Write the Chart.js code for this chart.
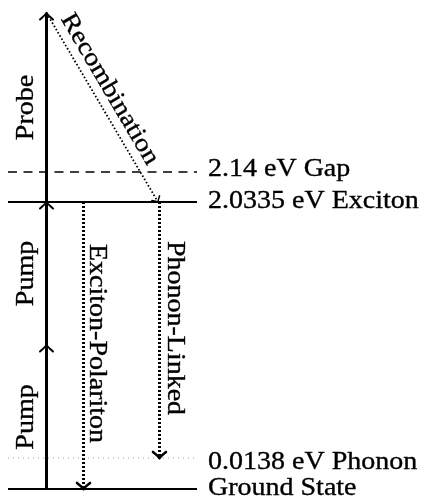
<!DOCTYPE html>
<html><head><meta charset="utf-8">
<script src="https://cdn.jsdelivr.net/npm/chart.js@4"></script>
<style>html,body{margin:0;padding:0;background:#fff}canvas{display:block}</style>
</head><body>
<canvas id="c" width="422" height="504"></canvas>
<script>
// ---- data (schematic level heights above the ground state) ----
const levelNames   = ['Ground State', '0.0138 eV Phonon', '2.0335 eV Exciton', '2.14 eV Gap'];
const levelHeights = [0, 31, 287, 317];
const levelStyles  = ['solid', 'dotted', 'solid', 'dashed'];
const levelSpan    = [8, 197];              // x extent of level lines

const transitionNames = ['Pump', 'Pump', 'Probe', 'Exciton-Polariton', 'Phonon-Linked', 'Recombination'];
const transitionFrom  = [0, 144, 287, 287, 287, 476];
const transitionTo    = [144, 287, 476, 0, 31, 287];
const transitionX0    = [46.5, 46.5, 46.5, 83.5, 159.5, 46.5];
const transitionX1    = [46.5, 46.5, 46.5, 83.5, 159.5, 158];
const transitionKind  = ['pump', 'pump', 'probe', 'emit', 'emit', 'recomb'];

// ---- styles ----
const FONT = '25px "Liberation Serif", "Times New Roman", serif';
const SX = 1.12;
const levelLabelDy = [-2, 3, -2, -4];

const lineStyle = {
  solid:  {borderColor: '#000', borderWidth: 2, borderDash: []},
  dotted: {borderColor: '#a0a0a0', borderWidth: 1, borderDash: [1, 4]},
  dashed: {borderColor: '#000', borderWidth: 1.3, borderDash: [9, 6.5]}
};
const kindStyle = {
  pump:   {borderColor: '#000', borderWidth: 3, borderDash: [], head: [6.5, 6.5, 2]},
  probe:  {borderColor: '#000', borderWidth: 3, borderDash: [], head: [6.5, 6.5, 2]},
  emit:   {borderColor: '#000', borderWidth: 3, borderDash: [2, 2], head: [6.5, 6, 2.6]},
  recomb: {borderColor: '#000', borderWidth: 1.8, borderDash: [1.6, 2.1], head: [4.5, 4.5, 1.5]}
};

const datasets = [];
levelHeights.forEach((h, i) => {
  datasets.push(Object.assign({
    data: [{x: levelSpan[0], y: h}, {x: levelSpan[1], y: h}],
    showLine: true, pointRadius: 0, fill: false, tension: 0, borderCapStyle: 'butt'
  }, lineStyle[levelStyles[i]]));
});
transitionNames.forEach((n, i) => {
  const st = kindStyle[transitionKind[i]];
  datasets.push({
    data: [{x: transitionX0[i], y: transitionFrom[i]}, {x: transitionX1[i], y: transitionTo[i]}],
    showLine: true, pointRadius: 0, fill: false, tension: 0, borderCapStyle: 'butt',
    borderColor: st.borderColor, borderWidth: st.borderWidth, borderDash: st.borderDash
  });
});

function drawText(ctx, text, x, y, angle, align) {
  ctx.save();
  ctx.translate(x, y);
  ctx.rotate(angle);
  ctx.scale(SX, 1);
  ctx.font = FONT;
  ctx.fillStyle = '#000';
  ctx.strokeStyle = '#000';
  ctx.lineWidth = 0.35;
  ctx.textAlign = align;
  ctx.textBaseline = 'alphabetic';
  ctx.fillText(text, 0, 0);
  ctx.strokeText(text, 0, 0);
  ctx.restore();
}

const overlay = {
  id: 'overlay',
  afterDatasetsDraw(chart) {
    const ctx = chart.ctx, xs = chart.scales.x, ys = chart.scales.y;
    // arrow heads
    transitionNames.forEach((n, i) => {
      const st = kindStyle[transitionKind[i]];
      const x0 = xs.getPixelForValue(transitionX0[i]), y0 = ys.getPixelForValue(transitionFrom[i]);
      const x1 = xs.getPixelForValue(transitionX1[i]), y1 = ys.getPixelForValue(transitionTo[i]);
      const a = Math.atan2(y1 - y0, x1 - x0);
      const [W, L, lw] = st.head;
      const ux = Math.cos(a), uy = Math.sin(a), nx = -uy, ny = ux;
      ctx.save();
      ctx.strokeStyle = '#000';
      ctx.lineWidth = lw;
      ctx.lineCap = 'round';
      ctx.setLineDash([]);
      [1, -1].forEach(s => {
        const bx = x1 - ux * L + nx * W * s, by = y1 - uy * L + ny * W * s;
        const cx = x1 - ux * L * 0.35 + nx * W * s * 0.25, cy = y1 - uy * L * 0.35 + ny * W * s * 0.25;
        ctx.beginPath();
        ctx.moveTo(bx, by);
        ctx.quadraticCurveTo(cx, cy, x1, y1);
        ctx.stroke();
      });
      ctx.restore();
    });
    // level labels
    levelNames.forEach((t, i) => {
      const y = ys.getPixelForValue(levelHeights[i]) + levelLabelDy[i] + 8;
      drawText(ctx, t, xs.getPixelForValue(levelSpan[1]) + 11, y, 0, 'left');
    });
    // transition labels
    transitionNames.forEach((t, i) => {
      const k = transitionKind[i];
      const x0 = xs.getPixelForValue(transitionX0[i]), y0 = ys.getPixelForValue(transitionFrom[i]);
      const x1 = xs.getPixelForValue(transitionX1[i]), y1 = ys.getPixelForValue(transitionTo[i]);
      const my = (y0 + y1) / 2;
      if (k === 'pump' || k === 'probe') {
        drawText(ctx, t, x0 - 14, my, -Math.PI / 2, 'center');
      } else if (k === 'emit') {
        drawText(ctx, t, x0 + (i === 3 ? 6.5 : 8.5), my - 2, Math.PI / 2, 'center');
      } else {
        const a = Math.atan2(y1 - y0, x1 - x0);
        const len = Math.hypot(x1 - x0, y1 - y0);
        const ux = Math.cos(a), uy = Math.sin(a);
        const nx = uy, ny = -ux; // upper-right normal
        const f = 0.445 * len, d = 9;
        drawText(ctx, t, x0 + ux * f + nx * d, y0 + uy * f + ny * d, a, 'center');
      }
    });
  }
};

new Chart(document.getElementById('c'), {
  type: 'scatter',
  data: {datasets},
  options: {
    responsive: false,
    animation: false,
    events: [],
    layout: {padding: 0},
    plugins: {legend: {display: false}, tooltip: {enabled: false}},
    scales: {
      x: {type: 'linear', display: false, min: 0, max: 422},
      y: {type: 'linear', display: false, min: -15, max: 489}
    }
  },
  plugins: [overlay]
});
</script>
</body></html>
